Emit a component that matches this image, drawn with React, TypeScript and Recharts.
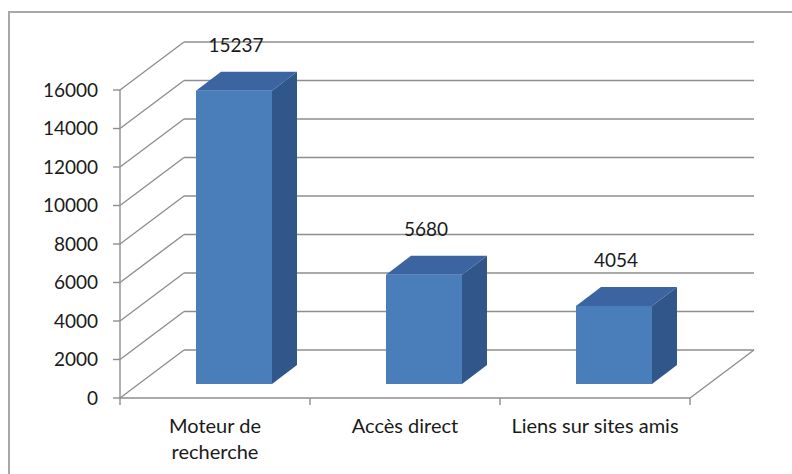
import React from "react";
import { BarChart, Bar, XAxis, YAxis, CartesianGrid, LabelList } from "recharts";

const categories = ["Moteur de recherche", "Accès direct", "Liens sur sites amis"];
const visits = [15237, 5680, 4054];
const yTicks = [0, 2000, 4000, 6000, 8000, 10000, 12000, 14000, 16000];
const categoryLabelLines = [["Moteur de", "recherche"], ["Accès direct"], ["Liens sur sites amis"]];

const data = categories.map((name, i) => ({ name, value: visits[i] }));

const CHART_W = 792;
const CHART_H = 474;
const MARGIN = { top: 90, right: 102, bottom: 6, left: 0 };
const Y_AXIS_W = 120;
const X_AXIS_H = 70;
const PLOT_BOTTOM = CHART_H - MARGIN.bottom - X_AXIS_H;
const PLOT_LEFT = MARGIN.left + Y_AXIS_W;
const PLOT_W = CHART_W - PLOT_LEFT - MARGIN.right;
const BAND = PLOT_W / categories.length;

// 3D projection offsets
const DX = 64; // full depth of the box
const DY = 48;
const OX = 19; // bar front face offset from front plane
const OY = 14;
const BX = 25; // bar depth
const BY = 19;

const FONT = "Lato, 'Open Sans', sans-serif";
const GRID = "#8e8e8e";
const FRONT = "#4A7EBB";
const TOP = "#3B64A0";
const SIDE = "#31568A";
const TEXT = "#1a1a1a";

const GridLine = (p: any) => {
  const { x1, y1, x2, index } = p;
  const isFloor = Math.abs(y1 - PLOT_BOTTOM) < 1;
  return (
    <g key={`grid-${index}-${y1}`}>
      <line x1={x1} y1={y1} x2={x1 + DX} y2={y1 - DY} stroke={GRID} strokeWidth={1.4} />
      <line x1={x1 + DX} y1={y1 - DY} x2={x2 + DX} y2={y1 - DY} stroke={GRID} strokeWidth={1.4} />
      {isFloor && (
        <line x1={x2} y1={y1} x2={x2 + DX} y2={y1 - DY} stroke={GRID} strokeWidth={1.4} />
      )}
    </g>
  );
};

const Box3D = (props: any) => {
  const { x, y, width, height } = props;
  const fx = x + OX;
  const fy = y - OY;
  const w = width;
  const h = height;
  const top = `${fx},${fy} ${fx + BX},${fy - BY} ${fx + w + BX},${fy - BY} ${fx + w},${fy}`;
  const side = `${fx + w},${fy} ${fx + w + BX},${fy - BY} ${fx + w + BX},${fy - BY + h} ${fx + w},${fy + h}`;
  return (
    <g>
      <polygon points={side} fill={SIDE} />
      <polygon points={top} fill={TOP} />
      <rect x={fx} y={fy} width={w} height={h} fill={FRONT} />
    </g>
  );
};

const ValueLabel = (props: any) => {
  const { x, y, width, value } = props;
  return (
    <text
      x={x + width / 2 + OX + 2}
      y={y - 53}
      textAnchor="middle"
      fontFamily={FONT}
      fontSize={19}
      fill={TEXT}
    >
      {value}
    </text>
  );
};

const CategoryTick = (props: any) => {
  const { x, index } = props;
  const lines = categoryLabelLines[index] || [];
  const isLast = index === categories.length - 1;
  return (
    <g>
      <line x1={x - BAND / 2} y1={PLOT_BOTTOM} x2={x - BAND / 2} y2={PLOT_BOTTOM + 7} stroke={GRID} strokeWidth={1.4} />
      {isLast && (
        <line x1={x + BAND / 2} y1={PLOT_BOTTOM} x2={x + BAND / 2} y2={PLOT_BOTTOM + 7} stroke={GRID} strokeWidth={1.4} />
      )}
      {lines.map((l, i) => (
        <text
          key={i}
          x={x}
          y={PLOT_BOTTOM + 35 + i * 26}
          textAnchor="middle"
          fontFamily={FONT}
          fontSize={20}
          fill={TEXT}
        >
          {l}
        </text>
      ))}
    </g>
  );
};

export default function App() {
  return (
    <div
      style={{
        position: "absolute",
        left: 0,
        top: 0,
        width: CHART_W,
        height: CHART_H,
        overflow: "hidden",
        background: "#fff",
      }}
    >
      <div
        style={{
          position: "absolute",
          left: 8,
          top: 11,
          width: 820,
          height: 500,
          border: "2px solid #a8a8a8",
        }}
      />
      <div style={{ position: "absolute", left: 0, top: 0 }}>
        <BarChart width={CHART_W} height={CHART_H} data={data} margin={MARGIN} barCategoryGap="30%">
          <CartesianGrid vertical={false} horizontal={GridLine} />
          <YAxis
            width={Y_AXIS_W}
            domain={[0, 16000]}
            ticks={yTicks}
            interval={0}
            axisLine={{ stroke: GRID, strokeWidth: 1.4 }}
            tickLine={{ stroke: GRID, strokeWidth: 1.4 }}
            tickSize={7}
            tickMargin={15}
            tick={{ fontFamily: FONT, fontSize: 19, fill: TEXT }}
          />
          <XAxis
            dataKey="name"
            height={X_AXIS_H}
            interval={0}
            axisLine={{ stroke: GRID, strokeWidth: 1.4 }}
            tickLine={false}
            tick={<CategoryTick />}
          />
          <Bar dataKey="value" shape={<Box3D />} isAnimationActive={false}>
            <LabelList dataKey="value" content={<ValueLabel />} />
          </Bar>
        </BarChart>
      </div>
    </div>
  );
}
